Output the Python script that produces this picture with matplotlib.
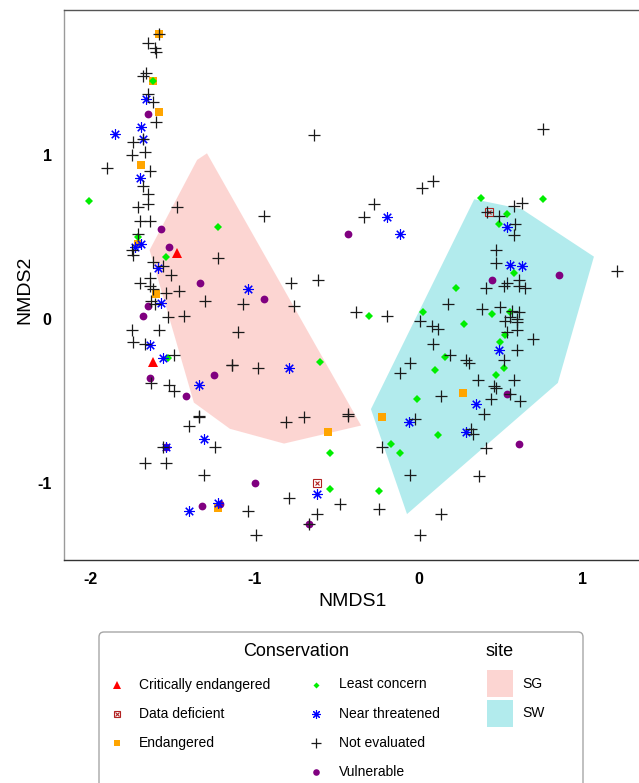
import numpy as np
import matplotlib.pyplot as plt
from matplotlib.patches import Polygon, FancyBboxPatch, Rectangle

plt.rcParams['font.family'] = ['Liberation Sans', 'DejaVu Sans']
plt.rcParams['axes.unicode_minus'] = False

# --- data (NMDS scores) ---
cr_x = [-1.47, -1.62]
cr_y = [0.40, -0.26]

dd_x = [-0.62, 0.43]
dd_y = [-1.00, 0.65]

en_x = [-1.58, -1.62, -1.58, -1.69, -1.71, -1.60, -0.55, -1.22, 0.27, -0.22]
en_y = [1.74, 1.45, 1.26, 0.94, 0.46, 0.15, -0.69, -1.15, -0.45, -0.60]

lc_x = [-1.62, -2.01, -1.22, -1.71, -1.54, -1.53, -0.60, -0.54, -0.54, -0.30,
        -0.24, 0.38, 0.76, 0.54, 0.49, 0.58, 0.23, 0.45, 0.56, 0.03,
        0.28, 0.53, 0.50, 0.52, 0.47, 0.16, 0.10, -0.01, -0.17, -0.11, 0.12]
lc_y = [1.45, 0.72, 0.56, 0.50, 0.38, -0.24, -0.26, -0.82, -1.04, 0.02,
        -1.05, 0.74, 0.73, 0.64, 0.58, 0.28, 0.19, 0.03, 0.04, 0.04,
        -0.03, -0.10, -0.14, -0.30, -0.34, -0.23, -0.31, -0.49, -0.76, -0.82, -0.71]

nt_x = [-1.66, -1.69, -1.85, -1.68, -1.70, -1.69, -1.73, -1.59, -1.57, -1.64,
        -1.56, -1.34, -1.04, -0.79, -1.31, -1.54, -1.40, -1.22, -0.62, -0.19,
        -0.11, 0.54, 0.56, 0.63, 0.49, 0.35, -0.06, 0.29]
nt_y = [1.34, 1.17, 1.13, 1.10, 0.86, 0.46, 0.44, 0.31, 0.10, -0.16,
        -0.24, -0.40, 0.18, -0.30, -0.73, -0.78, -1.17, -1.12, -1.07, 0.62,
        0.52, 0.56, 0.33, 0.32, -0.19, -0.52, -0.63, -0.69]

ne_x = [-1.58, -1.65, -1.61, -1.60, -1.66, -1.68, -1.65, -1.62, -1.60, -1.68,
        -1.74, -1.67, -1.75, -1.90, -1.64, -1.68, -1.65, -1.65, -1.71, -1.47,
        -1.70, -1.64, -1.71, -1.75, -1.74, -1.22, -1.62, -1.56, -1.51, -1.64,
        -1.70, -1.64, -1.62, -1.46, -1.54, -1.30, -1.63, -1.61, -1.53, -1.43,
        -1.75, -1.58, -1.74, -1.67, -1.49, -1.14, -1.63, -1.52, -1.49,
        -0.64, -0.94, -0.78, -0.61, -1.07, -0.76, -0.38, -1.10, -1.14, -0.98,
        -1.34, -1.34, -1.40, -0.81, -0.70, -0.43, -0.43, -1.24, -1.56, -1.67,
        -1.54, -1.31, -0.79, -0.48, -1.04, -0.62, -0.67, -0.99,
        0.76, 0.09, 0.02, -0.27, -0.33, 0.63, 0.58, 0.42, 0.49, 0.59,
        0.58, 0.47, 0.47, 1.21, 0.61, 0.54, 0.52, 0.61, 0.65, 0.41,
        0.18, 0.39, 0.50, 0.57, 0.61, 0.56, 0.60, 0.53, 0.60, 0.60,
        0.54, 0.70, 0.01, 0.08, 0.12, 0.09, -0.19, 0.60, 0.19, 0.29,
        0.31, -0.05, 0.52, -0.11, 0.58, 0.36, 0.46, 0.47, 0.14, 0.56,
        0.62, 0.44, 0.40, -0.02, 0.32, 0.33, -0.22, 0.41, -0.05, 0.37,
        -0.24, 0.14, 0.01]
ne_y = [1.74, 1.68, 1.65, 1.63, 1.50, 1.48, 1.37, 1.32, 1.20, 1.10,
        1.08, 1.02, 1.00, 0.92, 0.90, 0.81, 0.76, 0.70, 0.68, 0.68,
        0.60, 0.60, 0.52, 0.42, 0.39, 0.37, 0.35, 0.32, 0.27, 0.25,
        0.22, 0.20, 0.18, 0.17, 0.16, 0.11, 0.11, 0.09, 0.01, 0.02,
        -0.07, -0.07, -0.14, -0.15, -0.22, -0.28, -0.39, -0.40, -0.44,
        1.12, 0.63, 0.22, 0.24, 0.09, 0.08, 0.04, -0.08, -0.28, -0.30,
        -0.59, -0.60, -0.65, -0.63, -0.60, -0.58, -0.59, -0.78, -0.78, -0.88,
        -0.88, -0.95, -1.09, -1.13, -1.17, -1.19, -1.25, -1.32,
        1.16, 0.84, 0.80, 0.70, 0.62, 0.71, 0.69, 0.65, 0.63, 0.58,
        0.51, 0.42, 0.34, 0.29, 0.24, 0.22, 0.20, 0.20, 0.19, 0.19,
        0.09, 0.06, 0.07, 0.05, 0.04, 0.01, 0.00, -0.01, -0.02, -0.07,
        -0.08, -0.12, -0.01, -0.04, -0.06, -0.15, 0.02, -0.19, -0.22, -0.25,
        -0.27, -0.27, -0.25, -0.33, -0.37, -0.37, -0.41, -0.42, -0.47, -0.46,
        -0.50, -0.49, -0.58, -0.61, -0.67, -0.70, -0.78, -0.79, -0.95, -0.96,
        -1.16, -1.19, -1.32]

vu_x = [-1.65, -1.57, -1.52, -1.33, -0.94, -1.65, -1.68, -1.25, -1.64, -1.42,
        -0.43, -1.54, -1.00, -1.32, -1.21, -0.67, 0.45, 0.86, 0.54, 0.61]
vu_y = [1.25, 0.55, 0.44, 0.22, 0.12, 0.08, 0.02, -0.34, -0.36, -0.47,
        0.52, -0.78, -1.00, -1.14, -1.13, -1.25, 0.24, 0.27, -0.46, -0.76]

# convex hulls per site
sg_x = [-1.35, -1.29, -0.35, -0.82, -1.15, -1.37, -1.64]
sg_y = [0.97, 1.01, -0.65, -0.76, -0.67, -0.51, 0.42]
sw_x = [0.34, 0.63, 1.07, 0.85, -0.07, -0.29]
sw_y = [0.73, 0.67, 0.38, -0.39, -1.19, -0.55]

categories = ["Critically endangered", "Data deficient", "Endangered",
              "Least concern", "Near threatened", "Not evaluated", "Vulnerable"]
sites = ["SG", "SW"]
site_colors = ["#F8766D", "#00BFC4"]

# style per category
styles = {
    "Critically endangered": dict(marker="^", color="red", ms=6.5, mew=0),
    "Data deficient": dict(marker="s", color="#B22222", ms=5.2, mew=0.8, mfc="none"),
    "Endangered": dict(marker="s", color="#FFA500", ms=5.3, mew=0),
    "Least concern": dict(marker="D", color="#00EE00", ms=3.6, mew=0),
    "Near threatened": dict(marker=(8, 2, 0), color="blue", ms=7.5, mew=0.8),
    "Not evaluated": dict(marker="+", color="#1a1a1a", ms=8, mew=0.9),
    "Vulnerable": dict(marker="o", color="#800080", ms=5.6, mew=0),
}
points = {
    "Critically endangered": (cr_x, cr_y),
    "Data deficient": (dd_x, dd_y),
    "Endangered": (en_x, en_y),
    "Least concern": (lc_x, lc_y),
    "Near threatened": (nt_x, nt_y),
    "Not evaluated": (ne_x, ne_y),
    "Vulnerable": (vu_x, vu_y),
}

W, H = 639, 783
fig = plt.figure(figsize=(W / 100, H / 100), dpi=100)

# main axes: right side runs past the figure edge like in the original
ax = fig.add_axes([64 / W, 1 - 560 / H, (660 - 64) / W, 550 / H])
ax.set_xlim(-2.162, 1.473)
ax.set_ylim(-1.470, 1.884)

for hx, hy, col in [(sg_x, sg_y, site_colors[0]), (sw_x, sw_y, site_colors[1])]:
    ax.add_patch(Polygon(np.column_stack([hx, hy]), closed=True,
                         facecolor=col, alpha=0.3, edgecolor="none", zorder=1))

draw_order = ["Endangered", "Data deficient", "Critically endangered",
              "Least concern", "Vulnerable", "Near threatened", "Not evaluated"]
for i, cat in enumerate(draw_order):
    st = styles[cat]
    x, y = points[cat]
    ax.plot(x, y, linestyle="none", marker=st["marker"], color=st["color"],
            markersize=st["ms"], markeredgewidth=st["mew"],
            markerfacecolor=st.get("mfc", st["color"]), zorder=3 + i)
    if cat == "Data deficient":
        ax.plot(x, y, linestyle="none", marker="x", color=st["color"],
                markersize=3.5, markeredgewidth=0.8, zorder=3 + i)

ax.set_xticks([-2, -1, 0, 1])
ax.set_xticklabels(["-2", "-1", "0", "1"])
ax.set_yticks([-1, 0, 1])
ax.set_yticklabels(["-1", "0", "1"])
ax.tick_params(length=0, labelsize=11.5, pad=9)
for lab in ax.get_xticklabels() + ax.get_yticklabels():
    lab.set_fontweight("bold")

ax.set_xlabel("NMDS1", fontsize=14, va="center")
ax.xaxis.set_label_coords(0.485, -0.076)
ax.set_ylabel("NMDS2", fontsize=14, va="center")
ax.yaxis.set_label_coords(-0.065, 0.491)

ax.spines["left"].set_color("#9a9a9a")
ax.spines["bottom"].set_color("#333333")
ax.spines["top"].set_color("#555555")
for s in ax.spines.values():
    s.set_linewidth(1.0)

# --- legend drawn in pixel space ---
lax = fig.add_axes([0, 0, 1, 1])
lax.set_xlim(0, W)
lax.set_ylim(H, 0)
lax.axis("off")
lax.add_patch(FancyBboxPatch((99, 632), 484, 220,
                             boxstyle="round,pad=0,rounding_size=5",
                             facecolor="white", edgecolor="#a6a6a6", linewidth=1))
lax.text(296.5, 652, "Conservation", fontsize=13, ha="center", va="center")
lax.text(499.5, 652, "site", fontsize=13, ha="center", va="center")

col_x = [116.7, 316]
for i, cat in enumerate(categories):
    c = 0 if i < 3 else 1
    r = i if i < 3 else i - 3
    yy = 684.5 + r * 29.2
    st = styles[cat]
    lax.plot(col_x[c], yy, linestyle="none", marker=st["marker"], color=st["color"],
             markersize=st["ms"] * 0.85, markeredgewidth=st["mew"],
             markerfacecolor=st.get("mfc", st["color"]))
    if cat == "Data deficient":
        lax.plot(col_x[c], yy, linestyle="none", marker="x", color=st["color"],
                 markersize=3, markeredgewidth=0.8)
    lax.text(col_x[c] + 22.6, yy, cat, fontsize=10, ha="left", va="center")

for j, (site, col) in enumerate(zip(sites, site_colors)):
    top = 670 + j * 29.5
    lax.add_patch(Rectangle((486.7, top), 26, 27, facecolor=col, alpha=0.3,
                            edgecolor="none"))
    lax.text(522.7, top + 13.8, site, fontsize=10, ha="left", va="center")

fig.savefig("out.png", dpi=100)
